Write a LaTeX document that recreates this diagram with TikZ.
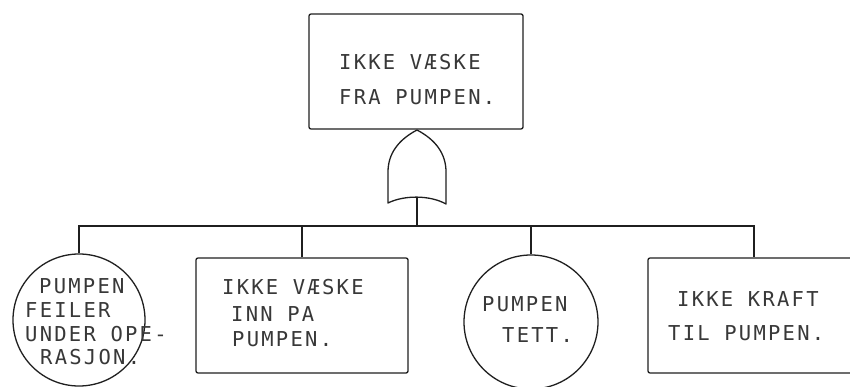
\documentclass[tikz,border=0pt]{standalone}
\usepackage{fontspec}
\newfontfamily\twfont[LetterSpace=11]{DejaVu Sans Mono}
\begin{document}
\begin{tikzpicture}[x=1pt,y=-1pt,
  ink/.style={draw=black!88,line width=1.3pt},
  eventbox/.style={ink,rectangle,rounded corners=2pt,inner sep=0pt,
    minimum width=212pt,minimum height=115pt},
  basicev/.style={ink,circle,inner sep=0pt,minimum size=#1},
  txt/.style={anchor=west,inner sep=0pt,text=black!78,
    font=\twfont\fontsize{20.5}{24}\selectfont}]
\useasboundingbox (0,0) rectangle (850,387);
\fill[white] (0,0) rectangle (850,387);

% top event and its OR gate
\node[eventbox,minimum width=214pt] (top) at (416,71.5) {};
\node[txt] (top1) at (339,62) {IKKE VÆSKE};
\node[txt] (top2) at (339,97) {FRA PUMPEN.};

\coordinate (gtop) at (417,130);
\coordinate (gbot) at (417,198);
\coordinate (bus) at (417,226);
\draw[ink,line join=round]
  (gtop) .. controls (398,140) and (388,154) .. (388,172)
  -- (388,203) .. controls (404,195) and (430,195) .. (446,204)
  -- (446,172) .. controls (446,154) and (436,140) .. (gtop);

% input events
\node[basicev=132pt] (c1) at (79,320) {};
\node[txt] (c1a) at (39,286) {PUMPEN};
\node[txt] (c1b) at (25,310) {FEILER};
\node[txt] (c1c) at (25,334) {UNDER OPE-};
\node[txt] (c1d) at (40,357) {RASJON.};

\node[eventbox] (b2) at (302,315.5) {};
\node[txt] (b2a) at (222,287) {IKKE VÆSKE};
\node[txt] (b2b) at (231,314) {INN PA};
\node[txt] (b2c) at (232,339) {PUMPEN.};

\node[basicev=134pt] (c2) at (531,322) {};
\node[txt] (c2a) at (482,304) {PUMPEN};
\node[txt] (c2b) at (502,335) {TETT.};

\node[eventbox] (b4) at (754,315.5) {};
\node[txt] (b4a) at (677,299) {IKKE KRAFT};
\node[txt] (b4b) at (668,333) {TIL PUMPEN.};

% connectors
\draw[ink] (gbot) -- (bus);
\draw[ink] (c1.north) |- (bus) -| (b4.north);
\draw[ink] (b2.north) -- (b2.north |- bus);
\draw[ink] (c2.north) -- (c2.north |- bus);
\end{tikzpicture}
\end{document}
